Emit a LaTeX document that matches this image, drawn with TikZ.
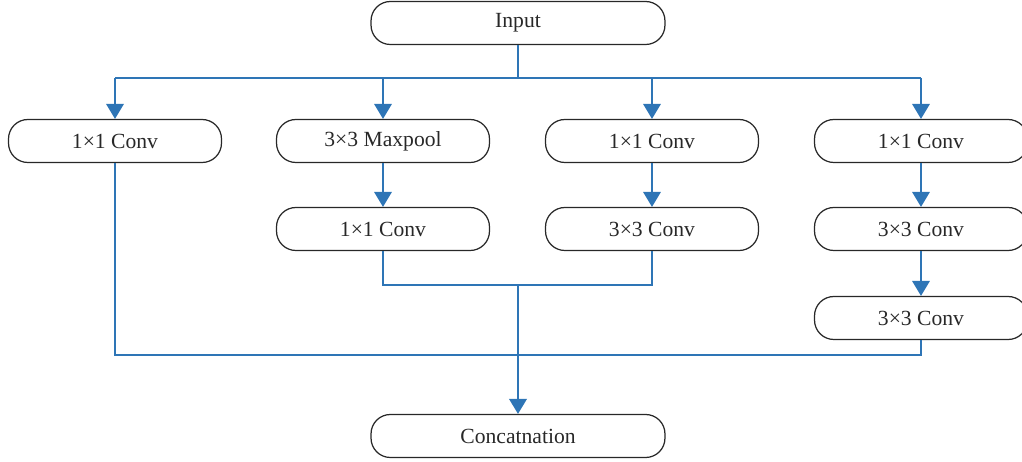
\documentclass[tikz,border=0pt]{standalone}
\usepackage{fontspec}
\setmainfont{Liberation Serif}
\usetikzlibrary{arrows.meta}
\definecolor{myblue}{RGB}{46, 117, 182}
\definecolor{mygray}{RGB}{40, 40, 40}
\tikzset{
  block/.style={draw=mygray, line width=0.7pt, rounded corners=11pt, minimum width=4.26cm, minimum height=0.86cm, font=\fontsize{12.3}{14}\selectfont, text=mygray},
  wideblock/.style={block, minimum width=5.88cm},
  link/.style={draw=myblue, line width=0.8pt},
  arr/.style={link, -{Triangle[length=8.5pt,width=10pt]}}
}

\begin{document}
\begin{tikzpicture}[x=0.02cm, y=-0.02cm]
\useasboundingbox (0,0) rectangle (1022,462);
\node[wideblock] (in) at (518,23) {Input};
\node[block] (c1a) at (115,141) {1×1 Conv};
\node[block] (c2a) at (383,141) {3×3 Maxpool};
\node[block] (c3a) at (652,141) {1×1 Conv};
\node[block] (c4a) at (921,141) {1×1 Conv};
\node[block] (c2b) at (383,229) {1×1 Conv};
\node[block] (c3b) at (652,229) {3×3 Conv};
\node[block] (c4b) at (921,229) {3×3 Conv};
\node[block] (c4c) at (921,318) {3×3 Conv};
\node[wideblock] (cat) at (518,436) {Concatnation};
\coordinate (split) at (518,78);
\coordinate (j1) at (518,285);
\coordinate (j2) at (518,355);
% split to the four branches
\draw[link] (in) -- (split);
\draw[link] (c1a |- split) -- (c4a |- split);
\draw[arr] (c1a |- split) -- (c1a);
\draw[arr] (c2a |- split) -- (c2a);
\draw[arr] (c3a |- split) -- (c3a);
\draw[arr] (c4a |- split) -- (c4a);
% inside the branches
\draw[arr] (c2a) -- (c2b);
\draw[arr] (c3a) -- (c3b);
\draw[arr] (c4a) -- (c4b);
\draw[arr] (c4b) -- (c4c);
% joining
\draw[link] (c2b) -- (c2b |- j1) -- (c3b |- j1) -- (c3b);
\draw[link] (c1a) -- (c1a |- j2) -- (c4c |- j2) -- (c4c);
\draw[arr, line width=1pt] (j1) -- (cat);
\end{tikzpicture}
\end{document}
